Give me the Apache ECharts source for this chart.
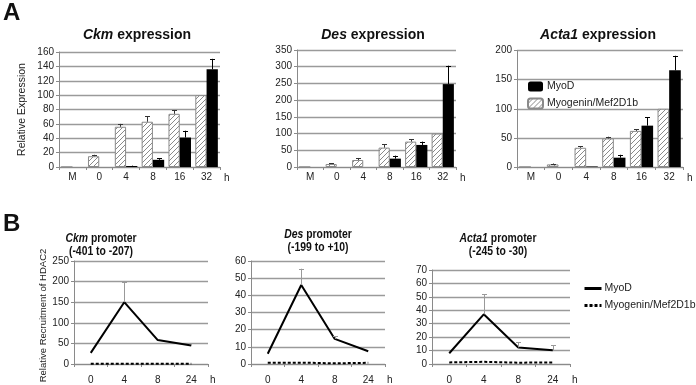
<!DOCTYPE html>
<html><head><meta charset="utf-8">
<script src="https://cdn.jsdelivr.net/npm/echarts@6/dist/echarts.min.js"></script>
<style>html,body{margin:0;padding:0;background:#fff}#c{width:696px;height:385px}</style>
</head><body><div id="c"></div>
<script>
// ---------- data ----------
const catsA = ['M', '0', '4', '8', '16', '32'];
const ckmMyoD = [0, 0, 1.4, 10, 41, 136];
const ckmMyoDErr = [0, 0, 0.5, 2.5, 9.5, 14.5];
const ckmMyog = [0, 15, 56, 63, 74, 100];
const ckmMyogErr = [0, 2, 4, 7.5, 5, 0];
const desMyoD = [0, 0, 0, 25, 66, 248];
const desMyoDErr = [0, 0, 0, 9, 10, 55];
const desMyog = [0, 9, 21, 58, 76, 100];
const desMyogErr = [0, 2, 6, 10, 7, 0];
const actaMyoD = [0, 0, 1, 16, 71, 166];
const actaMyoDErr = [0, 0, 0, 5, 14, 25];
const actaMyog = [0, 4.5, 33, 49, 62, 100];
const actaMyogErr = [0, 1.5, 3, 3, 3, 0];

const catsB = ['0', '4', '8', '24'];
const ckmPromMyoD = [27, 150, 58, 45];
const ckmPromMyoDErr = [0, 49, 0, 5];
const ckmPromMyog = [0.5, 0.5, 0.5, 0.5];
const desPromMyoD = [6, 46, 14.6, 7.4];
const desPromMyoDErr = [0, 9.5, 1.5, 0];
const desPromMyog = [0.8, 0.8, 0.4, 0.7];
const actaPromMyoD = [8, 37, 12.3, 10.3];
const actaPromMyoDErr = [0, 15, 4, 3.7];
const actaPromMyog = [1.2, 1.6, 1, 1.1];

const titlesA = ['{i|Ckm} expression', '{i|Des} expression', '{i|Acta1} expression'];
const titlesB = ['{i|Ckm}{b| promoter}\n{b|(-401 to -207)}', '{i|Des}{b| promoter}\n{b|(-199 to +10)}', '{i|Acta1}{b| promoter}\n{b|(-245 to -30)}'];

// ---------- helpers ----------
const FONT = 'Liberation Sans, Arial, sans-serif';
function hatch() {
  const c = document.createElement('canvas');
  c.width = 5; c.height = 5;
  const g = c.getContext('2d');
  g.fillStyle = '#fff'; g.fillRect(0, 0, 5, 5);
  g.strokeStyle = '#8a8a8a'; g.lineWidth = 1;
  g.beginPath();
  g.moveTo(-1, 6); g.lineTo(6, -1);
  g.moveTo(-1, 1); g.lineTo(1, -1);
  g.moveTo(4, 6); g.lineTo(6, 4);
  g.stroke();
  return c;
}
const hatchFill = { image: hatch(), repeat: 'repeat' };

const gridsA = [
  { left: 59, top: 52, width: 161, height: 115 },
  { left: 297, top: 50, width: 159, height: 117 },
  { left: 517, top: 50.5, width: 166, height: 116.5 }
];
const gridsB = [
  { left: 74, top: 261, width: 134, height: 107 },
  { left: 251, top: 261, width: 134, height: 106 },
  { left: 432, top: 270, width: 138, height: 97 }
];
const yA = [[160, 20], [350, 50], [200, 50]];
const yB = [[250, 50], [60, 10], [70, 10]];

const gridLine = { show: true, lineStyle: { color: '#9a9a9a', width: 1.3 } };
const axisLine = { show: true, lineStyle: { color: '#8a8a8a', width: 1 } };
const lbl = { color: '#222', fontSize: 10, fontFamily: FONT };

const grid = [], xAxis = [], yAxis = [], series = [];

function errSeries(xi, yi, vals, errs, off, color, lw) {
  return {
    type: 'custom', xAxisIndex: xi, yAxisIndex: yi, silent: true, z: 5,
    data: vals.map((v, i) => [i, v, errs[i]]),
    renderItem: function (params, api) {
      const e = api.value(2);
      if (!e) return null;
      const i = api.value(0), v = api.value(1);
      const p0 = api.coord([i, v]), p1 = api.coord([i, v + e]);
      const bw = api.size([1, 0])[0];
      const cx = Math.round(p0[0] + off * bw) + 0.5;
      return {
        type: 'group', children: [
          { type: 'line', shape: { x1: cx, y1: p0[1], x2: cx, y2: p1[1] }, style: { stroke: color, lineWidth: lw } },
          { type: 'line', shape: { x1: cx - 2.5, y1: Math.round(p1[1]) + 0.5, x2: cx + 2.5, y2: Math.round(p1[1]) + 0.5 }, style: { stroke: color, lineWidth: 1 } }
        ]
      };
    }
  };
}

const dataA = [
  [ckmMyoD, ckmMyoDErr, ckmMyog, ckmMyogErr],
  [desMyoD, desMyoDErr, desMyog, desMyogErr],
  [actaMyoD, actaMyoDErr, actaMyog, actaMyogErr]
];
gridsA.forEach((g, k) => {
  grid.push(g);
  xAxis.push({
    type: 'category', gridIndex: k, data: catsA,
    axisLine: axisLine, axisTick: { show: true, length: 3, lineStyle: { color: '#8a8a8a' } },
    axisLabel: Object.assign({ margin: 5 }, lbl),
    name: 'h', nameLocation: 'end', nameGap: 4,
    nameTextStyle: Object.assign({ verticalAlign: 'top', padding: [6, 0, 0, 0] }, lbl)
  });
  yAxis.push({
    type: 'value', gridIndex: k, min: 0, max: yA[k][0], interval: yA[k][1],
    axisLine: axisLine, axisTick: { show: true, length: 3, lineStyle: { color: '#8a8a8a' } },
    splitLine: gridLine, axisLabel: Object.assign({ margin: 5 }, lbl),
    name: k === 0 ? 'Relative Expression' : '', nameLocation: 'middle', nameGap: 31,
    nameTextStyle: { color: '#222', fontSize: 10.5, fontFamily: FONT }
  });
  const d = dataA[k];
  series.push({
    name: 'Myogenin/Mef2D1b', type: 'bar', xAxisIndex: k, yAxisIndex: k, data: d[2],
    barGap: '0%', barCategoryGap: '16%',
    itemStyle: { color: hatchFill, borderColor: '#8a8a8a', borderWidth: 1 }
  });
  series.push({
    name: 'MyoD', type: 'bar', xAxisIndex: k, yAxisIndex: k, data: d[0],
    barGap: '0%', barCategoryGap: '16%',
    itemStyle: { color: '#000' }
  });
  series.push(errSeries(k, k, d[2], d[3], -0.21, '#333', 1));
  series.push(errSeries(k, k, d[0], d[1], 0.21, '#000', 1));
});

const dataB = [
  [ckmPromMyoD, ckmPromMyoDErr, ckmPromMyog],
  [desPromMyoD, desPromMyoDErr, desPromMyog],
  [actaPromMyoD, actaPromMyoDErr, actaPromMyog]
];
gridsB.forEach((g, j) => {
  const k = j + 3;
  grid.push(g);
  xAxis.push({
    type: 'category', gridIndex: k, data: catsB,
    axisLine: axisLine, axisTick: { show: true, length: 3, lineStyle: { color: '#8a8a8a' } },
    axisLabel: Object.assign({ margin: 11 }, lbl),
    name: 'h', nameLocation: 'end', nameGap: 2,
    nameTextStyle: Object.assign({ verticalAlign: 'top', padding: [11, 0, 0, 0] }, lbl)
  });
  yAxis.push({
    type: 'value', gridIndex: k, min: 0, max: yB[j][0], interval: yB[j][1],
    axisLine: axisLine, axisTick: { show: true, length: 3, lineStyle: { color: '#8a8a8a' } },
    splitLine: gridLine, axisLabel: Object.assign({ margin: 5 }, lbl),
    name: j === 0 ? 'Relative Recruitment of HDAC2' : '', nameLocation: 'middle', nameGap: 26,
    nameTextStyle: { color: '#222', fontSize: 9.5, fontFamily: FONT, padding: [0, 0, 0, -6] }
  });
  const d = dataB[j];
  series.push({
    name: 'MyoD (B)', type: 'line', xAxisIndex: k, yAxisIndex: k, data: d[0],
    symbol: 'none', lineStyle: { color: '#000', width: 2 }, itemStyle: { color: '#000' }, z: 4
  });
  series.push({
    name: 'Myogenin/Mef2D1b (B)', type: 'line', xAxisIndex: k, yAxisIndex: k, data: d[2],
    symbol: 'none', lineStyle: { color: '#000', width: 2, type: [3, 2] }, itemStyle: { color: '#000' }, z: 4
  });
  series.push(errSeries(k, k, d[0], d[1], 0, '#999', 1));
});

function mkStyle(size, lh) {
  return {
    color: '#111', fontSize: size, fontWeight: 'bold', fontFamily: FONT, lineHeight: lh,
    rich: { i: { fontStyle: 'italic', fontWeight: 'bold', fontSize: size, fontFamily: FONT, color: '#111', lineHeight: lh } }
  };
}
const titleA = mkStyle(14, 14);
const posA = [[137, 28], [373, 28], [598, 28]];
const posB = [[101, 232], [318, 228], [498, 232]];

const graphic = posB.map((p, j) => ({
  type: 'text', x: p[0], y: p[1], scaleX: 0.8, silent: true,
  style: {
    text: titlesB[j], align: 'center', verticalAlign: 'top', fill: '#111',
    font: 'bold 13px ' + FONT, lineHeight: 13,
    rich: {
      i: { fontStyle: 'italic', fontWeight: 'bold', fontSize: 13, fontFamily: FONT, fill: '#111', color: '#111', lineHeight: 13 },
      b: { fontWeight: 'bold', fontSize: 13, fontFamily: FONT, fill: '#111', color: '#111', lineHeight: 13 }
    }
  }
}));

const option = {
  animation: false,
  backgroundColor: '#fff',
  title: [
    { text: 'A', left: 3, top: 1, padding: 0, textStyle: { fontSize: 24, fontWeight: 'bold', fontFamily: FONT, color: '#111' } },
    { text: 'B', left: 3, top: 212, padding: 0, textStyle: { fontSize: 24, fontWeight: 'bold', fontFamily: FONT, color: '#111' } }
  ].concat(posA.map((p, k) => ({ text: titlesA[k], left: p[0], top: p[1], textAlign: 'center', padding: 0, textStyle: titleA }))),
  graphic: graphic,
  legend: [
    {
      data: ['MyoD', 'Myogenin/Mef2D1b'], orient: 'vertical', left: 527, top: 81,
      itemWidth: 15, itemHeight: 10, itemGap: 5.5, padding: 0,
      textStyle: { color: '#222', fontSize: 10.5, fontFamily: FONT, padding: [0, 0, 0, -1] },
      selectedMode: false
    },
    {
      data: ['MyoD (B)', 'Myogenin/Mef2D1b (B)'], orient: 'vertical', left: 583, top: 282,
      itemWidth: 17, itemHeight: 1, itemGap: 4, padding: 0,
      lineStyle: { width: 3 },
      formatter: n => n.replace(' (B)', ''),
      textStyle: { color: '#222', fontSize: 10.5, fontFamily: FONT, padding: [0, 0, 0, -2], lineHeight: 13 },
      selectedMode: false
    }
  ],
  grid: grid, xAxis: xAxis, yAxis: yAxis, series: series
};
const chart = echarts.init(document.getElementById('c'), null, { renderer: 'canvas' });
chart.setOption(option);
</script></body></html>
